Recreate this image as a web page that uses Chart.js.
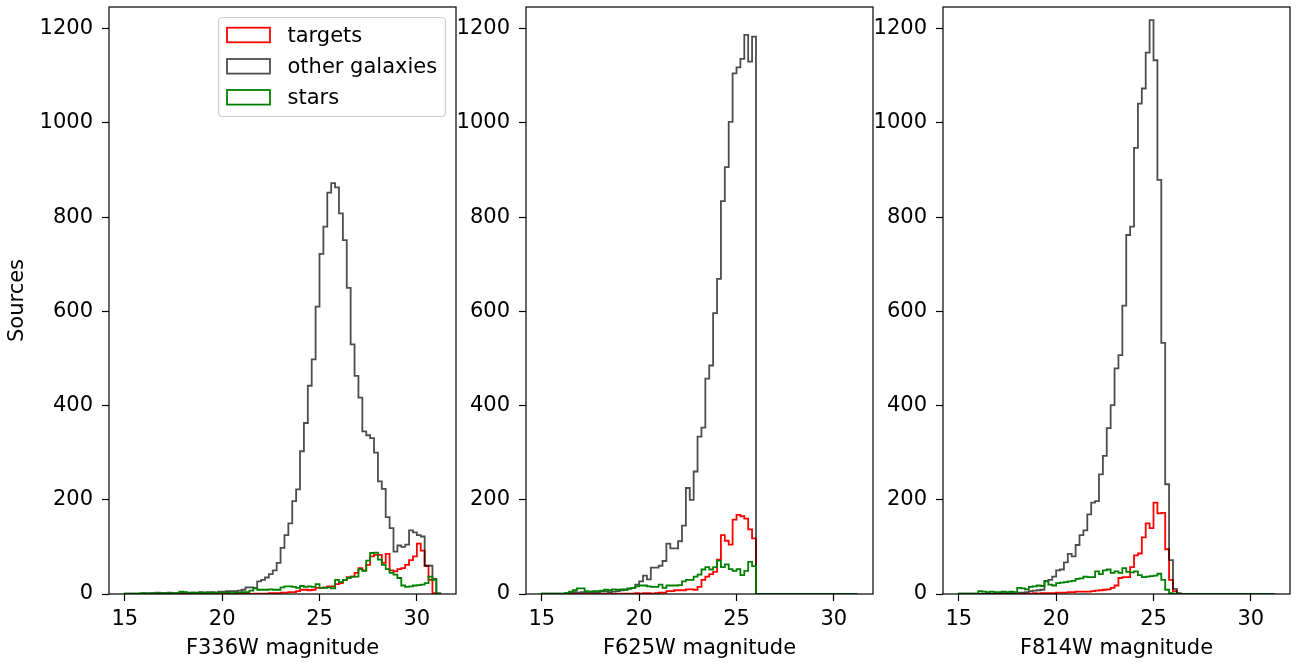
<!DOCTYPE html>
<html><head><meta charset="utf-8">
<script src="https://cdn.jsdelivr.net/npm/chart.js@4.4.1/dist/chart.umd.min.js"></script>
<style>
html,body{margin:0;padding:0;background:#fff;overflow:hidden;width:1301px;height:665px;position:relative;}
canvas{position:absolute;top:0;}
</style></head><body>
<canvas id="c1" width="470" height="665" style="left:0px;width:470px;height:665px"></canvas>
<canvas id="c2" width="431" height="665" style="left:456px;width:431px;height:665px"></canvas>
<canvas id="c3" width="431" height="665" style="left:873px;width:431px;height:665px"></canvas>
<script>
// ---- data ----
const seriesNames = ['targets', 'other galaxies', 'stars'];
const xLabels = ['F336W magnitude', 'F625W magnitude', 'F814W magnitude'];
const yLabel = 'Sources';
const xTickValues = [15, 20, 25, 30];
const yTickValues = [0, 200, 400, 600, 800, 1000, 1200];
const binEdges = [
15.0,15.2,15.4,15.6,15.8,16.0,16.2,16.4,16.6,16.8,
17.0,17.2,17.4,17.6,17.8,18.0,18.2,18.4,18.6,18.8,
19.0,19.2,19.4,19.6,19.8,20.0,20.2,20.4,20.6,20.8,
21.0,21.2,21.4,21.6,21.8,22.0,22.2,22.4,22.6,22.8,
23.0,23.2,23.4,23.6,23.8,24.0,24.2,24.4,24.6,24.8,
25.0,25.2,25.4,25.6,25.8,26.0,26.2,26.4,26.6,26.8,
27.0,27.2,27.4,27.6,27.8,28.0,28.2,28.4,28.6,28.8,
29.0,29.2,29.4,29.6,29.8,30.0,30.2,30.4,30.6,30.8,
31.0,31.2];

const f336wTargets = [
0,0,0,0,0,0,0,0,0,0,
0,0,0,0,0,0,0,0,0,0,
0,0,1,0,0,0,1,0,0,0,
0,1,0,1,1,1,1,2,2,2,
3,3,4,4,6,9,9,8,9,13,
13,14,16,16,21,23,30,36,37,45,
55,50,62,80,83,83,66,85,50,48,
53,55,62,72,80,107,92,60,30,2,
0];
const f336wGalaxies = [
1,1,1,1,1,2,2,2,3,2,
2,3,2,2,3,3,2,3,3,4,
3,4,4,3,5,5,6,6,6,7,
9,14,14,13,27,30,35,42,50,66,
98,125,150,197,222,303,363,442,498,610,
722,780,852,872,863,808,751,650,530,463,
417,345,337,331,300,239,223,163,140,90,
103,100,105,135,131,125,122,60,60,32,
2];
const f336wStars = [
1,1,1,1,2,1,1,2,1,2,
2,1,2,2,5,4,3,3,2,3,
3,2,3,3,3,3,3,2,3,3,
4,4,7,12,9,9,9,10,9,9,
14,16,16,15,13,17,15,16,15,21,
13,13,14,12,30,25,30,34,37,37,
53,49,71,87,88,73,62,53,45,41,
34,18,15,16,18,19,20,23,37,30,
0];

const f625wTargets = [
0,0,0,0,0,0,0,0,0,0,
0,0,0,0,0,0,0,0,0,1,
1,1,1,1,2,1,2,2,1,2,
3,3,6,6,8,8,8,10,10,9,
15,30,37,42,47,73,125,113,105,158,
168,165,160,137,118,0,0,0,0,0,
0,0,0,0,0,0,0,0,0,0,
0,0,0,0,0,0,0,0,0,0,
0];
const f625wGalaxies = [
1,1,1,1,1,1,2,3,4,3,
4,4,4,3,4,5,5,4,5,6,
8,9,11,13,20,27,39,31,56,56,
60,70,107,97,97,112,145,225,200,260,
334,353,457,485,596,669,834,906,1002,1105,
1118,1136,1187,1130,1183,0,0,0,0,0,
0,0,0,0,0,0,0,0,0,0,
0,0,0,0,0,0,0,0,0,0,
0];
const f625wStars = [
1,1,1,1,1,1,2,5,8,12,
12,6,5,6,6,7,9,8,10,9,
10,9,12,13,16,18,18,16,15,15,
20,13,18,18,18,19,27,30,30,37,
41,52,57,52,57,71,57,63,53,49,
53,40,49,68,59,0,0,0,0,0,
0,0,0,0,0,0,0,0,0,0,
0,0,0,0,0,0,0,0,0,0,
0];

const f814wTargets = [
0,0,0,0,0,0,0,0,0,0,
0,0,0,0,0,0,1,1,1,2,
1,2,2,2,2,3,3,3,4,4,
5,5,5,5,6,7,8,9,10,13,
18,34,36,36,57,82,86,120,150,140,
194,171,172,95,30,6,0,0,0,0,
0,0,0,0,0,0,0,0,0,0,
0,0,0,0,0,0,0,0,0,0,
0];
const f814wGalaxies = [
1,1,1,1,1,1,1,1,1,2,
2,2,2,2,3,3,3,4,6,7,
8,9,28,30,37,50,52,67,85,80,
104,125,135,169,194,197,254,293,352,401,
479,507,612,762,780,947,1041,1073,1149,1218,
1133,879,533,233,72,11,2,0,0,0,
0,0,0,0,0,0,0,0,0,0,
0,0,0,0,0,0,0,0,0,0,
0];
const f814wStars = [
1,1,1,1,1,6,5,4,5,4,
4,5,4,5,4,13,12,10,15,16,
18,17,27,20,18,23,24,25,27,28,
32,33,37,36,36,48,42,50,52,45,
48,45,55,47,46,48,40,36,37,38,
39,43,30,9,2,1,0,0,0,0,
0,0,0,0,0,0,0,0,0,0,
0,0,0,0,0,0,0,0,0,0,
0];

// ---- styling ----
const COLORS = ['#ff0000', 'rgba(0,0,0,0.7)', '#008000'];
const FONT = "'DejaVu Sans', 'Liberation Sans', sans-serif";
Chart.defaults.font.family = FONT;
Chart.defaults.font.size = 21;
Chart.defaults.color = '#000';

function stepPoints(counts) {
  const pts = [{x: binEdges[0], y: 0}];
  for (let i = 0; i < counts.length; i++) pts.push({x: binEdges[i], y: counts[i]});
  pts.push({x: binEdges[counts.length], y: 0});
  return pts;
}

const framePlugin = {
  id: 'frame',
  afterDatasetsDraw(chart) {
    const {ctx, chartArea: a} = chart;
    ctx.save();
    ctx.strokeStyle = '#000';
    ctx.lineWidth = 1.2;
    ctx.strokeRect(a.left, a.top, a.right - a.left, a.bottom - a.top);
    ctx.restore();
  }
};

const mplLegend = {
  id: 'mplLegend',
  afterDraw(chart, args, opts) {
    if (!opts || !opts.show) return;
    const {ctx, chartArea: a} = chart;
    const w = 227, h = 99;
    const bx = a.right - 10.5 - w, by = a.top + 10.5;
    ctx.save();
    const r = 4;
    ctx.beginPath();
    ctx.moveTo(bx + r, by);
    ctx.arcTo(bx + w, by, bx + w, by + h, r);
    ctx.arcTo(bx + w, by + h, bx, by + h, r);
    ctx.arcTo(bx, by + h, bx, by, r);
    ctx.arcTo(bx, by, bx + w, by, r);
    ctx.closePath();
    ctx.fillStyle = 'rgba(255,255,255,0.8)';
    ctx.fill();
    ctx.strokeStyle = '#cccccc';
    ctx.lineWidth = 1.2;
    ctx.stroke();
    const rows = [17.5, 48.8, 79.8];
    chart.data.datasets.forEach((ds, i) => {
      const cy = by + rows[i];
      ctx.strokeStyle = ds.borderColor;
      ctx.lineWidth = 1.8;
      ctx.strokeRect(bx + 8.5, cy - 7.3, 43, 14.6);
      ctx.fillStyle = '#000';
      ctx.font = "21px " + FONT;
      ctx.textAlign = 'left';
      ctx.textBaseline = 'alphabetic';
      ctx.fillText(ds.label, bx + 69, cy + 7);
    });
    ctx.restore();
  }
};

function makeChart(id, xlabel, tgt, gal, star, yTitle, yWidth, showLegend) {
  const datasets = [tgt, gal, star].map((arr, i) => ({
    label: seriesNames[i],
    data: stepPoints(arr),
    borderColor: COLORS[i],
    borderWidth: 1.8,
    stepped: 'before',
    pointRadius: 0,
    fill: false,
    tension: 0,
    borderJoinStyle: 'miter',
    borderCapStyle: 'butt',
    order: 3 - i
  }));
  const gridOpts = {drawOnChartArea: false, drawTicks: true, tickLength: 7, tickColor: '#000', tickWidth: 1.2, color: '#000'};
  return new Chart(document.getElementById(id), {
    type: 'line',
    data: {datasets},
    plugins: [framePlugin, mplLegend],
    options: {
      responsive: false, animation: false, devicePixelRatio: 1,
      layout: {padding: {left: 0, right: 14, top: 7, bottom: 0}},
      plugins: {legend: {display: false}, tooltip: {enabled: false}, mplLegend: {show: showLegend}},
      scales: {
        x: {
          type: 'linear', min: 14.19, max: 32.01,
          afterBuildTicks: ax => { ax.ticks = xTickValues.map(v => ({value: v})); },
          afterFit: ax => { ax.height = 71; ax.paddingLeft = 0; ax.paddingRight = 0; },
          ticks: {color: '#000', padding: 6, maxRotation: 0, autoSkip: false, callback: v => String(v)},
          grid: gridOpts,
          border: {display: false},
          title: {display: true, text: xlabel, color: '#000', padding: {top: 0, bottom: 4}}
        },
        y: {
          type: 'linear', min: 0, max: 1246,
          afterBuildTicks: ax => { ax.ticks = yTickValues.map(v => ({value: v})); },
          afterFit: ax => { ax.width = yWidth; ax.paddingTop = 0; ax.paddingBottom = 0; },
          ticks: {color: '#000', padding: 9, autoSkip: false, callback: v => String(v)},
          grid: gridOpts,
          border: {display: false},
          title: {display: !!yTitle, text: yTitle || '', color: '#000', padding: {top: 5, bottom: 0}}
        }
      }
    }
  });
}

makeChart('c1', xLabels[0], f336wTargets, f336wGalaxies, f336wStars, yLabel, 109, true);
makeChart('c2', xLabels[1], f625wTargets, f625wGalaxies, f625wStars, null, 70, false);
makeChart('c3', xLabels[2], f814wTargets, f814wGalaxies, f814wStars, null, 70, false);
</script>
</body></html>
